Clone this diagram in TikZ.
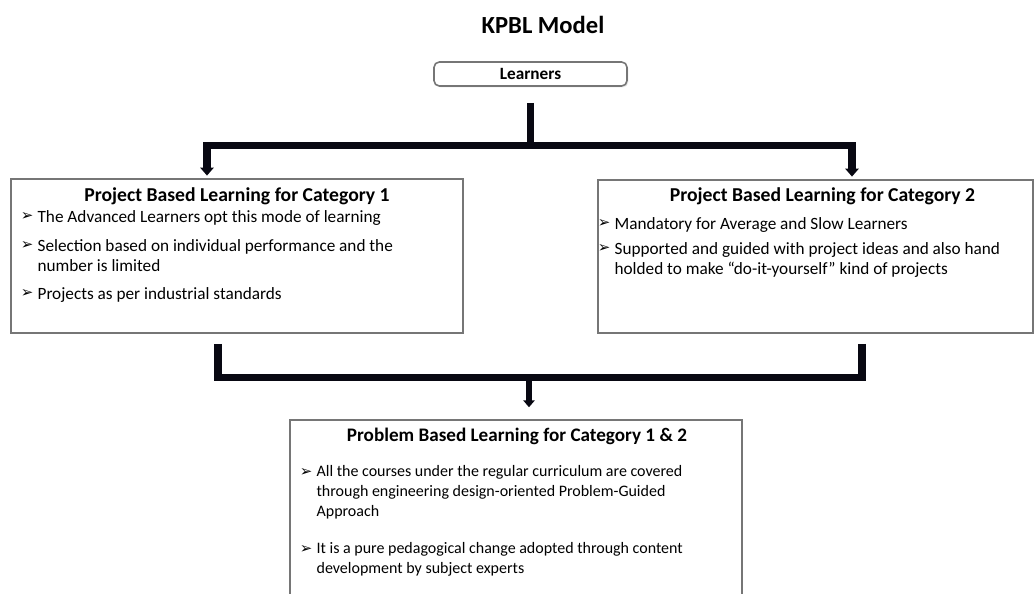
\documentclass[tikz,border=0pt]{standalone}
\usepackage{fontspec}
\setmainfont{Carlito}
\newfontfamily\symfont{DejaVu Sans}
\usetikzlibrary{arrows.meta,calc,positioning,shadows}
\definecolor{barcol}{RGB}{8,8,18}
\definecolor{edgecol}{RGB}{118,118,118}
\newcommand{\arr}{{\symfont\char"27A2}}

\tikzset{
  catbox/.style={draw=edgecol, line width=0.9pt, fill=white, inner sep=0pt,
    drop shadow={opacity=0.18, shadow xshift=0.8pt, shadow yshift=-0.8pt}},
  cattitle/.style={font=\bfseries\fontsize{11.2}{13}\selectfont, inner sep=0pt},
  item/.style={anchor=north west, align=left, inner sep=0pt, font=\fontsize{10}{11.3}\selectfont,
    label={[font=\symfont\fontsize{8.5}{9}\selectfont, anchor=north east, inner sep=0pt, xshift=-2pt, yshift=-1.4pt]north west:\arr}}
  ,
  bar/.style={barcol, line width=4pt},
  tip/.style={bar, -{Triangle[width=7.5pt,length=4.5pt]}}
}

\begin{document}
\begin{tikzpicture}[x=0.02cm, y=-0.02cm]
\clip (0,0) rectangle (1035,594);

% heading and root
\node[font=\bfseries\fontsize{14}{16}\selectfont] (ttl) at (543,25) {KPBL Model};
\node[draw=edgecol, line width=0.9pt, rounded corners=3pt, minimum width=3.86cm, minimum height=0.48cm,
  inner sep=0pt, font=\bfseries\fontsize{9.8}{11}\selectfont,
  drop shadow={opacity=0.18, shadow xshift=0.8pt, shadow yshift=-0.8pt}, fill=white] (learn) at (530.5,74) {Learners};

% the three boxes
\node[catbox, minimum width=9.04cm, minimum height=3.08cm] (cat1) at (237,256) {};
\node[catbox, minimum width=8.7cm, minimum height=3.06cm] (cat2) at (815.5,256.5) {};
\node[catbox, minimum width=9.04cm, minimum height=4cm] (pbl) at (516,520) {};

\node[cattitle] (cat1t) at ($(cat1.north)+(0,18)$) {Project Based Learning for Category 1};
\node[cattitle] (cat2t) at ($(cat2.north)+(7,17)$) {Project Based Learning for Category 2};
\node[cattitle, font=\bfseries\fontsize{10.9}{13}\selectfont] (pblt) at ($(pbl.north)+(1,17)$) {Problem Based Learning for Category 1 \& 2};

\foreach \dy/\txt [count=\k] in {32/{The Advanced Learners opt this mode of learning},
    61/{Selection based on individual performance and the\\number is limited},
    109/{Projects as per industrial standards}}
  \node[item, font=\fontsize{9.8}{11.3}\selectfont] (c1i\k) at ($(cat1.north west)+(27,\dy)$) {\txt};

\foreach \dy/\txt [count=\k] in {38/{Mandatory for Average and Slow Learners},
    63/{Supported and guided with project ideas and also hand\\holded to make “do-it-yourself” kind of projects}}
  \node[item, font=\fontsize{9.8}{11.3}\selectfont] (c2i\k) at ($(cat2.north west)+(17,\dy)$) {\txt};

\foreach \dy/\txt [count=\k] in {46/{All the courses under the regular curriculum are covered\\through engineering design-oriented Problem-Guided\\Approach},
    123/{It is a pure pedagogical change adopted through content\\development by subject experts}}
  \node[item, font=\fontsize{9.1}{11.3}\selectfont] (pi\k) at ($(pbl.north west)+(27,\dy)$) {\txt};

% connectors
\coordinate (fork) at ($(learn.south)+(0,59)$);
\draw[bar] ($(learn.south)+(0,16)$) -- (fork);
\draw[tip, shorten >=1.5pt] (fork) -| ([xshift=-0.6cm]cat1.north);
\draw[tip, shorten >=1.5pt] (fork) -| ([xshift=0.73cm]cat2.north);

\coordinate (join) at ($(pbl.north)+(13,-42)$);
\draw[bar] ($(cat1.south)+(-19,10)$) |- (join);
\draw[bar] ($(cat2.south)+(46.5,10)$) |- (join);
\draw[bar, line width=3.4pt, -{Triangle[width=6.5pt,length=4pt]}, shorten >=6.8pt] (join) -- (join |- pbl.north);
\end{tikzpicture}
\end{document}
